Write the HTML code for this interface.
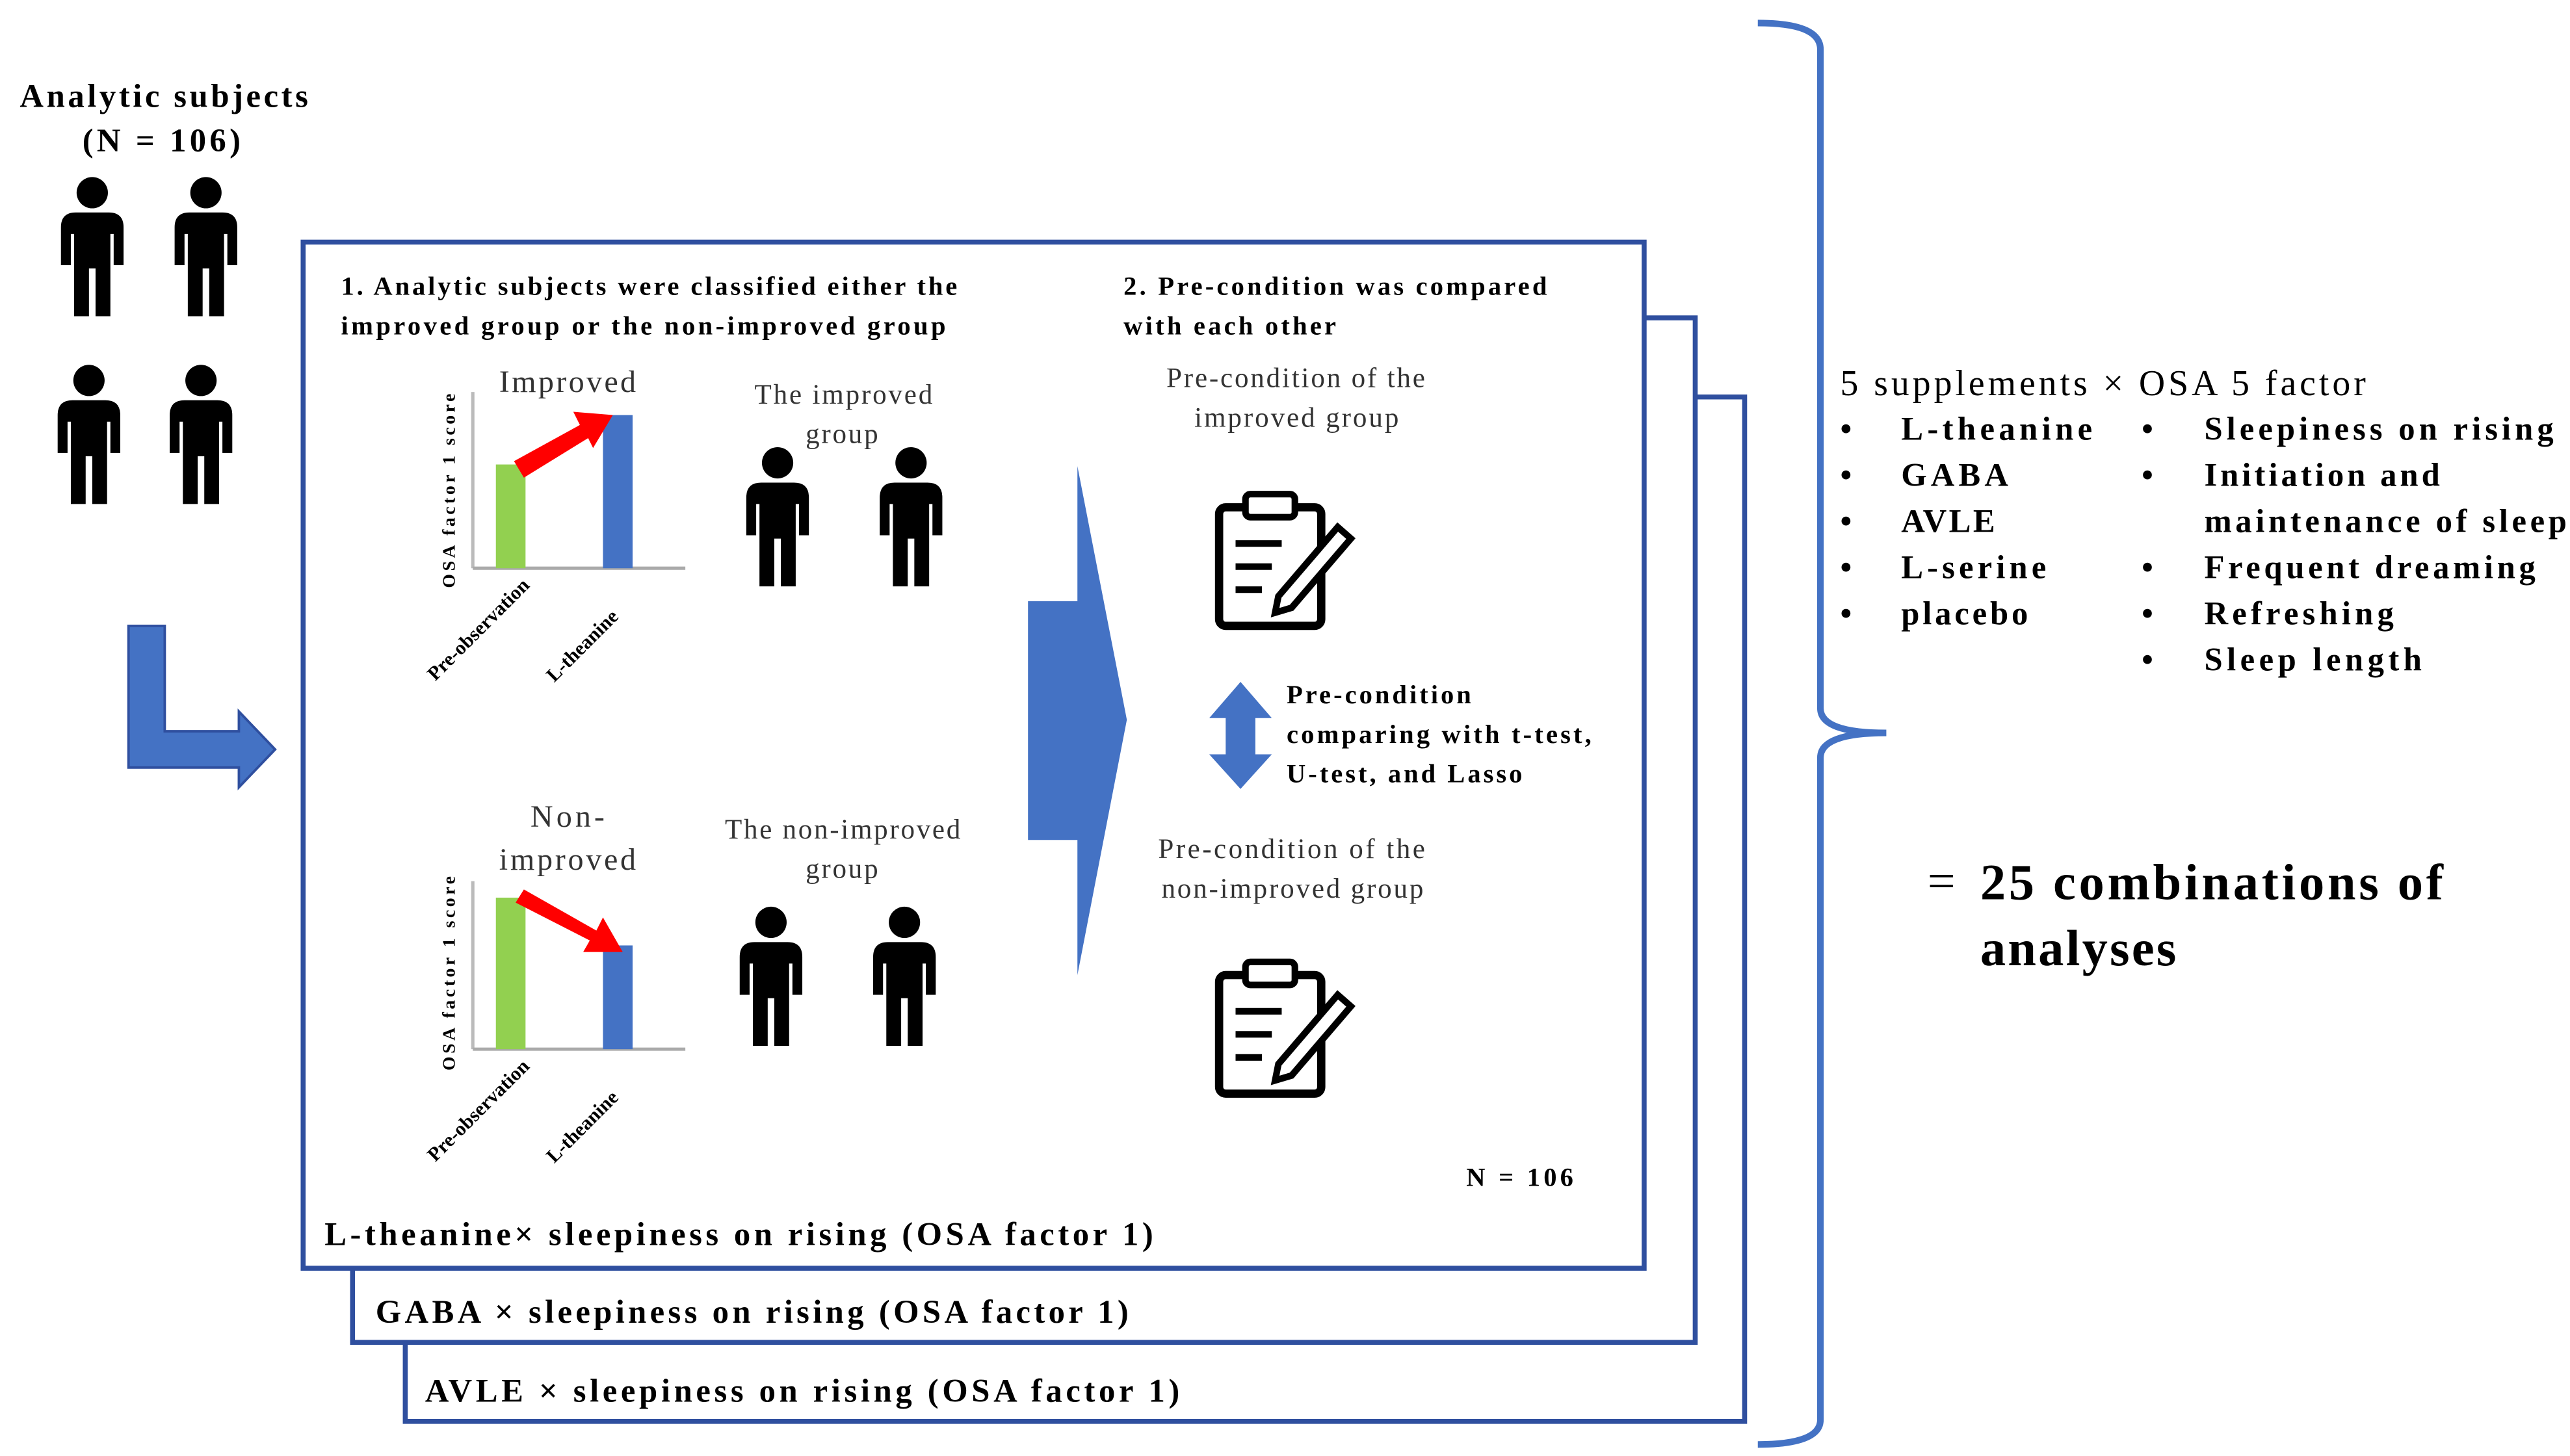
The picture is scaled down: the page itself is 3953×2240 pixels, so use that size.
<!DOCTYPE html>
<html><head><meta charset="utf-8"><style>html,body{margin:0;padding:0;background:#fff}svg{display:block}</style></head>
<body>
<svg width="3953" height="2240" viewBox="0 0 1560 884" preserveAspectRatio="none" xmlns="http://www.w3.org/2000/svg" font-family="Liberation Serif, serif">
<defs>
<g id="p"><circle cx="0" cy="9" r="9.5" fill="#000"/><path d="M-19,53 L-19,30 Q-19,21 -10,21 L10,21 Q19,21 19,30 L19,53 L13,53 L13,34 L11,34 L11,84 L2,84 L2,55 L-2,55 L-2,84 L-11,84 L-11,34 L-13,34 L-13,53 Z" fill="#000"/></g>
<g id="clip"><rect x="2" y="12" width="62" height="72" rx="4" fill="#fff" stroke="#000" stroke-width="5"/><rect x="18" y="4" width="30" height="14" rx="3" fill="#fff" stroke="#000" stroke-width="4"/><line x1="12" y1="34" x2="40" y2="34" stroke="#000" stroke-width="4"/><line x1="12" y1="48" x2="34" y2="48" stroke="#000" stroke-width="4"/><line x1="12" y1="62" x2="28" y2="62" stroke="#000" stroke-width="4"/><path d="M38,66 L74,24 L82,31 L46,73 L36,76 Z" fill="#fff" stroke="#000" stroke-width="4"/></g>
</defs>
<rect x="246" y="241" width="813" height="622" fill="#fff" stroke="#2f4f9f" stroke-width="3"/>
<rect x="214" y="193" width="815" height="622" fill="#fff" stroke="#2f4f9f" stroke-width="3"/>
<rect x="184" y="147" width="814" height="623" fill="#fff" stroke="#2f4f9f" stroke-width="3"/>
<g font-weight="bold" font-size="20" fill="#000" lengthAdjust="spacing">
<text x="258" y="851" textLength="458" lengthAdjust="spacing">AVLE   × sleepiness on rising (OSA factor 1)</text>
<text x="228" y="803" textLength="457" lengthAdjust="spacing">GABA × sleepiness on rising (OSA factor 1)</text>
<text x="197" y="756" textLength="503" lengthAdjust="spacing">L-theanine× sleepiness on rising (OSA factor 1)</text>
</g>
<text x="12" y="65" font-size="20" font-weight="bold" textLength="175" lengthAdjust="spacing">Analytic subjects</text>
<text x="50" y="92" font-size="20" font-weight="bold" textLength="96" lengthAdjust="spacing">(N = 106)</text>
<use href="#p" x="56" y="108"/><use href="#p" x="125" y="108"/><use href="#p" x="54" y="222"/><use href="#p" x="122" y="222"/>
<path d="M78,380 L100,380 L100,444 L145,444 L145,432 L167,455 L145,478 L145,466 L78,466 Z" fill="#4472c4" stroke="#2f4f9f" stroke-width="1.5"/>
<g font-size="16" font-weight="bold">
<text x="207" y="179" textLength="374" lengthAdjust="spacing">1. Analytic subjects were classified either the</text>
<text x="207" y="203" textLength="367" lengthAdjust="spacing">improved group or the non-improved group</text>
<text x="682" y="179" textLength="257" lengthAdjust="spacing">2. Pre-condition was compared</text>
<text x="682" y="203" textLength="129" lengthAdjust="spacing">with each other</text>
<text x="781" y="427" textLength="112" lengthAdjust="spacing">Pre-condition</text>
<text x="781" y="451" textLength="185" lengthAdjust="spacing">comparing with t-test,</text>
<text x="781" y="475" textLength="143" lengthAdjust="spacing">U-test, and Lasso</text>
<text x="890" y="720" textLength="65" lengthAdjust="spacing">N = 106</text>
</g>
<g>
<line x1="287" y1="238" x2="287" y2="345" stroke="#bbb" stroke-width="2"/>
<line x1="287" y1="345" x2="416" y2="345" stroke="#aaa" stroke-width="2"/>
<rect x="301" y="282" width="18" height="63" fill="#92d050"/>
<rect x="366" y="252" width="18" height="93" fill="#4472c4"/>
<path d="M312,280 L352,258 L348,250 L372,252 L360,272 L357,266 L318,290 Z" fill="#f00"/>
<text transform="translate(276,298) rotate(-90)" font-size="11" font-weight="bold" text-anchor="middle" textLength="118" lengthAdjust="spacing">OSA factor 1 score</text>
<text transform="translate(322,356) rotate(-45)" font-size="12" font-weight="bold" text-anchor="end">Pre-observation</text>
<text transform="translate(376,375) rotate(-45)" font-size="12" font-weight="bold" text-anchor="end">L-theanine</text>
<text x="303" y="238" font-size="19" fill="#333" textLength="83" lengthAdjust="spacing">Improved</text>
</g>
<g>
<line x1="287" y1="535" x2="287" y2="637" stroke="#bbb" stroke-width="2"/>
<line x1="287" y1="637" x2="416" y2="637" stroke="#aaa" stroke-width="2"/>
<rect x="301" y="545" width="18" height="92" fill="#92d050"/>
<rect x="366" y="574" width="18" height="63" fill="#4472c4"/>
<path d="M318,540 L362,565 L366,557 L378,578 L354,578 L358,571 L313,548 Z" fill="#f00"/>
<text transform="translate(276,591) rotate(-90)" font-size="11" font-weight="bold" text-anchor="middle" textLength="118" lengthAdjust="spacing">OSA factor 1 score</text>
<text transform="translate(322,648) rotate(-45)" font-size="12" font-weight="bold" text-anchor="end">Pre-observation</text>
<text transform="translate(376,667) rotate(-45)" font-size="12" font-weight="bold" text-anchor="end">L-theanine</text>
<text x="322" y="502" font-size="19" fill="#333" textLength="45" lengthAdjust="spacing">Non-</text>
<text x="303" y="528" font-size="19" fill="#333" textLength="83" lengthAdjust="spacing">improved</text>
</g>
<g font-size="17" fill="#333">
<text x="458" y="245" textLength="108" lengthAdjust="spacing">The improved</text><text x="489" y="269" textLength="44" lengthAdjust="spacing">group</text>
<text x="440" y="509" textLength="143" lengthAdjust="spacing">The non-improved</text><text x="489" y="533" textLength="44" lengthAdjust="spacing">group</text>
<text x="708" y="235" textLength="157" lengthAdjust="spacing">Pre-condition of the</text><text x="725" y="259" textLength="124" lengthAdjust="spacing">improved group</text>
<text x="703" y="521" textLength="162" lengthAdjust="spacing">Pre-condition of the</text><text x="705" y="545" textLength="159" lengthAdjust="spacing">non-improved group</text>
</g>
<use href="#p" x="472" y="272"/><use href="#p" x="553" y="272"/>
<use href="#p" x="468" y="551"/><use href="#p" x="549" y="551"/>
<path d="M624,365 L654,365 L654,283 L684,437 L654,592 L654,510 L624,510 Z" fill="#4472c4"/>
<use href="#clip" x="738" y="296"/>
<use href="#clip" x="738" y="580"/>
<path d="M753,414 L772,436 L762,436 L762,458 L772,458 L753,479 L734,458 L744,458 L744,436 L734,436 Z" fill="#4472c4"/>
<path d="M1067,14 Q1105,14 1105,30 L1105,430 Q1105,445 1145,445 Q1105,445 1105,460 L1105,862 Q1105,877 1067,877" fill="none" stroke="#4472c4" stroke-width="4"/>
<text x="1117" y="240" font-size="22" textLength="319" lengthAdjust="spacing">5 supplements × OSA 5 factor</text>
<g font-size="20" font-weight="bold">
<text x="1117" y="267">•</text><text x="1154" y="267" textLength="116" lengthAdjust="spacing">L-theanine</text>
<text x="1117" y="295">•</text><text x="1154" y="295" textLength="65" lengthAdjust="spacing">GABA</text>
<text x="1117" y="323">•</text><text x="1154" y="323" textLength="57" lengthAdjust="spacing">AVLE</text>
<text x="1117" y="351">•</text><text x="1154" y="351" textLength="88" lengthAdjust="spacing">L-serine</text>
<text x="1117" y="379">•</text><text x="1154" y="379" textLength="77" lengthAdjust="spacing">placebo</text>
<text x="1300" y="267">•</text><text x="1338" y="267" textLength="212" lengthAdjust="spacing">Sleepiness on rising</text>
<text x="1300" y="295">•</text><text x="1338" y="295" textLength="143" lengthAdjust="spacing">Initiation and</text>
<text x="1338" y="323" textLength="220" lengthAdjust="spacing">maintenance of sleep</text>
<text x="1300" y="351">•</text><text x="1338" y="351" textLength="201" lengthAdjust="spacing">Frequent dreaming</text>
<text x="1300" y="379">•</text><text x="1338" y="379" textLength="115" lengthAdjust="spacing">Refreshing</text>
<text x="1300" y="407">•</text><text x="1338" y="407" textLength="132" lengthAdjust="spacing">Sleep length</text>
</g>
<text x="1170" y="545" font-size="30">=</text>
<text x="1202" y="546" font-size="31" font-weight="bold" textLength="281" lengthAdjust="spacing">25 combinations of</text>
<text x="1202" y="586" font-size="31" font-weight="bold" textLength="119" lengthAdjust="spacing">analyses</text>
</svg>
</body></html>
